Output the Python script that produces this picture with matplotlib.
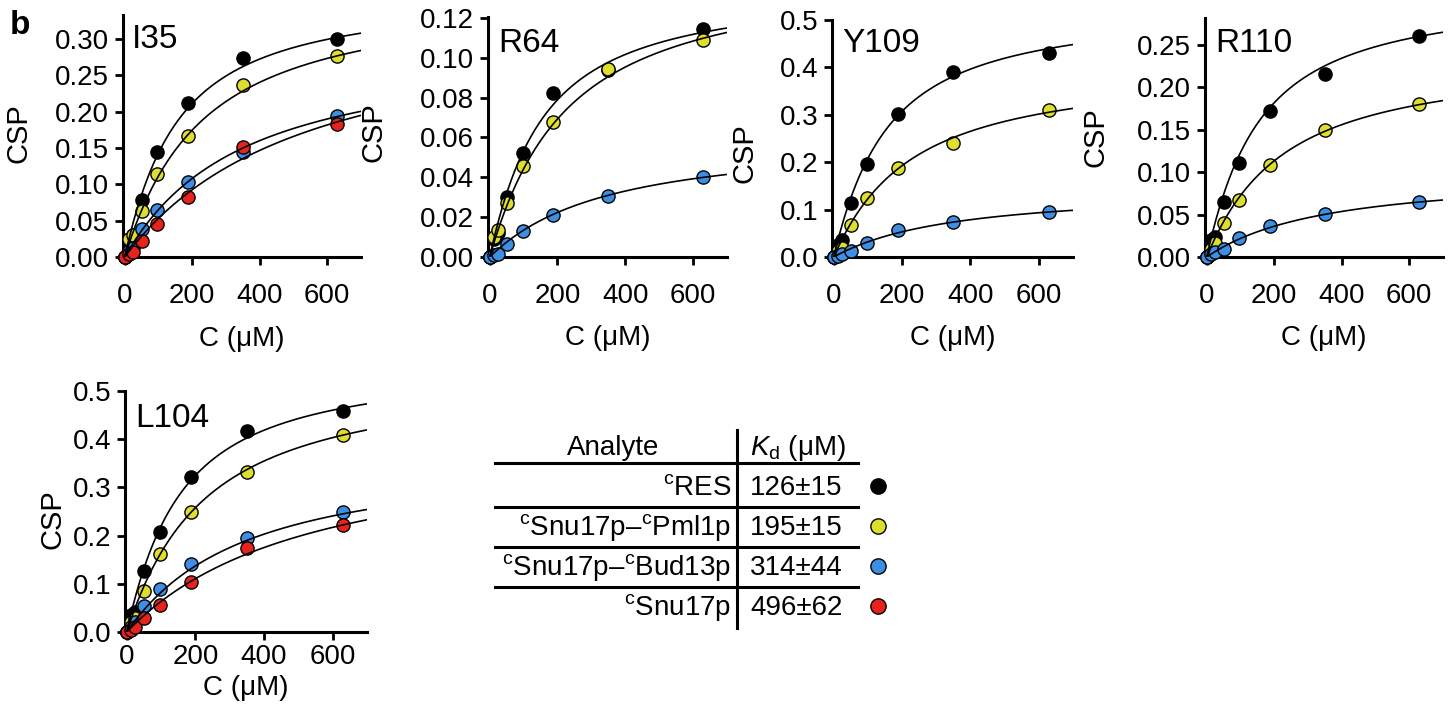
import numpy as np
import matplotlib.pyplot as plt

plt.rcParams['font.family'] = 'Liberation Sans'
plt.rcParams['mathtext.fontset'] = 'custom'
plt.rcParams['mathtext.rm'] = 'Liberation Sans'
plt.rcParams['mathtext.it'] = 'Liberation Sans:italic'
plt.rcParams['mathtext.default'] = 'regular'

# titration points (uM)
conc = [0, 12, 25, 50, 97, 187, 350, 630]

# analytes and fitted Kd values from the table
analytes = [r'$^{c}$RES', r'$^{c}$Snu17p–$^{c}$Pml1p', r'$^{c}$Snu17p–$^{c}$Bud13p', r'$^{c}$Snu17p']
kd_text = ['126±15', '195±15', '314±44', '496±62']
kd = [126, 195, 314, 496]
colors = ['black', '#dede2e', '#3d8fe6', '#e8231d']
protein_uM = 50

# CSP values (order: RES, Pml1p, Bud13p, Snu17p)
i35_res = [0, 0.020, 0.030, 0.078, 0.145, 0.212, 0.274, 0.300]
i35_pml = [0, 0.025, 0.030, 0.063, 0.114, 0.166, 0.237, 0.276]
i35_bud = [0, 0.008, 0.012, 0.039, 0.065, 0.103, 0.145, 0.194]
i35_snu = [0, 0.004, 0.007, 0.022, 0.045, 0.083, 0.152, 0.183]
i35_bmax = [0.367, 0.368, 0.295, 0.339]

r64_res = [0, 0.009, 0.012, 0.030, 0.0524, 0.0822, 0.094, 0.1145]
r64_pml = [0, 0.010, 0.0138, 0.0269, 0.0458, 0.068, 0.0945, 0.1088]
r64_bud = [0, 0.001, 0.0013, 0.0067, 0.0129, 0.0213, 0.0305, 0.0403]
r64_bmax = [0.137, 0.146, 0.061]

y109_res = [0, 0.025, 0.035, 0.113, 0.197, 0.301, 0.391, 0.431]
y109_pml = [0, 0.012, 0.018, 0.067, 0.125, 0.187, 0.241, 0.310]
y109_bud = [0, 0.003, 0.006, 0.013, 0.030, 0.056, 0.074, 0.095]
y109_bmax = [0.534, 0.406, 0.145]

r110_res = [0, 0.020, 0.024, 0.065, 0.111, 0.172, 0.216, 0.261]
r110_pml = [0, 0.010, 0.016, 0.040, 0.067, 0.108, 0.150, 0.181]
r110_bud = [0, 0.003, 0.006, 0.010, 0.022, 0.036, 0.051, 0.065]
r110_bmax = [0.316, 0.239, 0.099]

l104_res = [0, 0.035, 0.042, 0.127, 0.208, 0.322, 0.418, 0.458]
l104_pml = [0, 0.020, 0.030, 0.085, 0.162, 0.250, 0.332, 0.408]
l104_bud = [0, 0.010, 0.021, 0.054, 0.089, 0.142, 0.196, 0.249]
l104_snu = [0, 0.005, 0.010, 0.029, 0.057, 0.103, 0.175, 0.221]
l104_bmax = [0.564, 0.543, 0.374, 0.405]


def binding(c, k, bmax, p=protein_uM):
    # quadratic single-site binding model
    s = p + c + k
    return bmax * (s - np.sqrt(s ** 2 - 4 * p * c)) / (2 * p)


W, H = 1455, 707
fig = plt.figure(figsize=(W / 100, H / 100), dpi=100)

# name, series, bmax, ymax, yticks, fmt, rect(px: left, right, top, bottom), tick pad, xlabel y, ylabel x, ylabel y, title pos
panels = [
    ('I35', [i35_res, i35_pml, i35_bud, i35_snu], i35_bmax, 0.333, np.arange(0, 0.31, 0.05), '%.2f',
     (123, 361, 15, 257), 13, -0.285, -0.38, 0.51, (0.038, 0.963)),
    ('R64', [r64_res, r64_pml, r64_bud], r64_bmax, 0.1205, np.arange(0, 0.121, 0.02), '%.2f',
     (488, 727, 17, 257), 13, -0.285, -0.42, 0.52, (0.042, 0.954)),
    ('Y109', [y109_res, y109_pml, y109_bud], y109_bmax, 0.5, np.arange(0, 0.51, 0.1), '%.1f',
     (832, 1073, 20, 257), 13, -0.285, -0.305, 0.44, (0.041, 0.966)),
    ('R110', [r110_res, r110_pml, r110_bud], r110_bmax, 0.282, np.arange(0, 0.251, 0.05), '%.2f',
     (1205, 1443, 18, 257), 13, -0.285, -0.40, 0.50, (0.042, 0.958)),
    ('L104', [l104_res, l104_pml, l104_bud, l104_snu], l104_bmax, 0.5, np.arange(0, 0.51, 0.1), '%.1f',
     (125, 367, 391, 632), 3, -0.18, -0.24, 0.47, (0.041, 0.95)),
]

cfit = np.linspace(0, 700, 300)

for name, series, bmax, ymax, yticks, fmt, rect, pad, xl_y, yl_x, yl_y, tpos in panels:
    l, r, t, b = rect
    ax = fig.add_axes([l / W, 1 - b / H, (r - l) / W, (b - t) / H])
    for i, vals in enumerate(series):
        ax.plot(conc, vals, 'o', ms=9.5, mfc=colors[i], mec='black', mew=1.0,
                clip_on=False, zorder=3)
        ax.plot(cfit, binding(cfit, kd[i], bmax[i]), color='black', lw=1.2, zorder=4)
    ax.set_xlim(-5, 700)
    ax.set_ylim(0, ymax)
    ax.set_xticks([0, 200, 400, 600])
    ax.set_yticks(yticks)
    ax.set_yticklabels([fmt % v for v in yticks])
    for s in ['top', 'right']:
        ax.spines[s].set_visible(False)
    for s in ['left', 'bottom']:
        ax.spines[s].set_linewidth(2.2)
    ax.tick_params(axis='both', direction='out', length=6, width=2, labelsize=20)
    ax.tick_params(axis='x', pad=pad)
    ax.tick_params(axis='y', pad=4)
    ax.set_xlabel('C (μM)', fontsize=20)
    ax.set_ylabel('CSP', fontsize=21)
    ax.xaxis.set_label_coords(0.5, xl_y)
    ax.yaxis.set_label_coords(yl_x, yl_y)
    ax.text(tpos[0], tpos[1], name, transform=ax.transAxes, fontsize=24, ha='left', va='top')

fig.text(10 / W, 1 - 10 / H, 'b', fontsize=24, fontweight='bold', ha='left', va='top')

# Kd table drawn in pixel coordinates
tab = fig.add_axes([0, 0, 1, 1])
tab.set_xlim(0, W)
tab.set_ylim(H, 0)
tab.axis('off')

tab.text(613, 455, 'Analyte', fontsize=20, ha='center', va='baseline')
tab.text(750, 455, r'$\mathit{K}_{d}$ (μM)', fontsize=20, ha='left', va='baseline')
tab.plot([737, 737], [430, 628], color='black', lw=2.2)
row_base = [495, 535, 575, 615]
line_y = [463, 507, 547, 587]
for yl in line_y:
    tab.plot([495, 858], [yl, yl], color='black', lw=2.2)
for i in range(len(analytes)):
    tab.text(731, row_base[i], analytes[i], fontsize=20, ha='right', va='baseline')
    tab.text(750, row_base[i], kd_text[i], fontsize=20, ha='left', va='baseline')
    tab.plot(878, row_base[i] - 9, 'o', ms=11, mfc=colors[i], mec='black', mew=1.0)

fig.savefig('out.png', dpi=100)
